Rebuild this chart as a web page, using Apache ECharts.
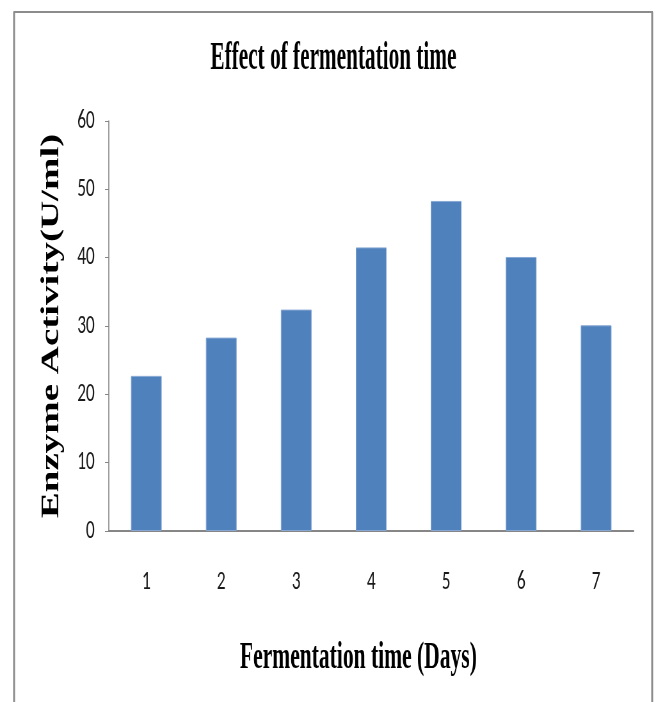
<!DOCTYPE html>
<html>
<head>
<meta charset="utf-8">
<title>Effect of fermentation time</title>
<script src="https://cdn.jsdelivr.net/npm/echarts@6/dist/echarts.min.js"></script>
<style>
  html, body { margin: 0; padding: 0; background: #ffffff; overflow: hidden; }
  #frame { width: 657px; height: 702px; overflow: hidden; position: relative; }
  /* the chart is laid out wide and squeezed horizontally, giving the condensed lettering */
  #chart { width: 1027px; height: 702px; transform: scaleX(0.64); transform-origin: 0 0; }
</style>
</head>
<body>
<div id="frame"><div id="chart"></div></div>
<script>
// Fermentation days on the x axis
const days = ['1', '2', '3', '4', '5', '6', '7'];
// Enzyme activity (U/ml) measured on each day
const activity = [22.7, 28.3, 32.4, 41.5, 48.3, 40.1, 30.1];
// Value axis range
const yMin = 0;
const yMax = 60;
const yStep = 10;

const titleText = 'Effect of fermentation time';
const xAxisTitle = 'Fermentation time (Days)';
const yAxisTitle = 'Enzyme Activity(U/ml)';

const serif = '"Liberation Serif", "Times New Roman", serif';
const sans = 'Carlito, Calibri, "Open Sans", sans-serif';
const frameGray = '#8c8c8c';
const axisGray = '#868686';

const chart = echarts.init(document.getElementById('chart'), null, { renderer: 'canvas' });

chart.setOption({
  backgroundColor: '#ffffff',
  animation: false,
  graphic: [
    // outer frame: top edge and the two sides
    { type: 'line', shape: { x1: 21, y1: 12, x2: 1020, y2: 12 }, style: { stroke: frameGray, lineWidth: 2 } },
    { type: 'line', shape: { x1: 22, y1: 12, x2: 22, y2: 702 }, style: { stroke: frameGray, lineWidth: 3 } },
    { type: 'line', shape: { x1: 1019, y1: 12, x2: 1019, y2: 702 }, style: { stroke: frameGray, lineWidth: 3 } },
    // chart title in tall condensed bold serif
    {
      type: 'text', x: 521, y: 59, scaleX: 0.83,
      style: {
        text: titleText, x: 0, y: 0, align: 'center', verticalAlign: 'middle',
        font: 'bold 40px ' + serif, fill: '#000000'
      }
    },
    // x axis title
    {
      type: 'text', x: 560, y: 658, scaleX: 0.91,
      style: {
        text: xAxisTitle, x: 0, y: 0, align: 'center', verticalAlign: 'middle',
        font: 'bold 37px ' + serif, fill: '#000000'
      }
    }
  ],
  grid: { left: 170, right: 37, top: 121, bottom: 171, containLabel: false },
  xAxis: {
    type: 'category',
    data: days,
    axisLine: { show: true, lineStyle: { color: axisGray, width: 2 } },
    axisTick: { show: false },
    axisLabel: { fontFamily: sans, fontSize: 27, color: '#1a1a1a', margin: 38 },
    splitLine: { show: false }
  },
  yAxis: {
    type: 'value',
    min: yMin,
    max: yMax,
    interval: yStep,
    name: yAxisTitle,
    nameLocation: 'middle',
    nameRotate: 90,
    nameGap: 70,
    nameTextStyle: {
      fontFamily: serif, fontWeight: 'bold', fontSize: 39, color: '#000000'
    },
    axisLine: { show: true, lineStyle: { color: axisGray, width: 1.6 } },
    axisTick: { show: true, length: 6, lineStyle: { color: axisGray, width: 1 } },
    axisLabel: { fontFamily: sans, fontSize: 27, color: '#1a1a1a', margin: 22 },
    splitLine: { show: false }
  },
  series: [{
    type: 'bar',
    data: activity,
    barWidth: '41%',
    itemStyle: { color: '#4f81bd', borderColor: '#86a7d4', borderWidth: 1 }
  }]
});
</script>
</body>
</html>
